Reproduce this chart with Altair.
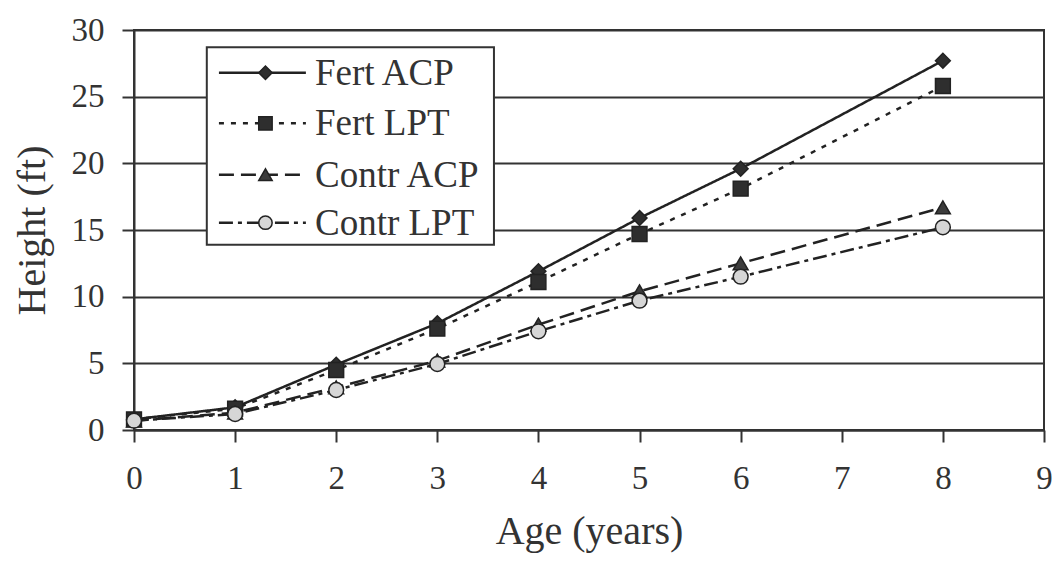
import altair as alt
import pandas as pd

# ---- data ----
ages = [0, 1, 2, 3, 4, 5, 6, 8]
fert_acp = [0.8, 1.7, 4.9, 8.0, 11.9, 15.9, 19.6, 27.7]
fert_lpt = [0.8, 1.6, 4.5, 7.6, 11.1, 14.7, 18.1, 25.8]
contr_acp = [0.7, 1.3, 3.2, 5.2, 7.9, 10.4, 12.5, 16.7]
contr_lpt = [0.7, 1.2, 3.0, 4.95, 7.4, 9.7, 11.5, 15.2]
series = ["Fert ACP", "Fert LPT", "Contr ACP", "Contr LPT"]
x_ticks = list(range(0, 10))
y_ticks = [0, 5, 10, 15, 20, 25, 30]

values = [fert_acp, fert_lpt, contr_acp, contr_lpt]
rows = []
for s, vals in zip(series, values):
    for a, v in zip(ages, vals):
        rows.append({"series": s, "age": a, "height": v})
df = pd.DataFrame(rows)

# ---- styles ----
FONT = "Liberation Serif"
INK = "#333333"
dashes = [[1, 0], [5, 7], [15, 7], [14, 5, 4, 5]]
shapes = ["diamond", "square", "triangle-up", "circle"]
fills = ["#2e2e2e", "#2e2e2e", "#3c3c3c", "#d6d6d6"]

dash_scale = alt.Scale(domain=series, range=dashes)
shape_scale = alt.Scale(domain=series, range=shapes)
fill_scale = alt.Scale(domain=series, range=fills)

xs = alt.Scale(domain=[0, 9], nice=False, zero=False)
ys = alt.Scale(domain=[0, 30], nice=False)

W = 910
x_axis = alt.Axis(values=x_ticks, format="d", grid=False, tickSize=12, tickWidth=2,
                  tickColor=INK, domainColor=INK, domainWidth=2, labelFont=FONT,
                  labelFontSize=33, labelColor=INK, labelPadding=20, labelFlush=False,
                  title="Age (years)", titleFont=FONT, titleFontSize=40,
                  titleFontWeight="normal", titleColor=INK, titleX=W / 2, titleY=113,
                  titleBaseline="alphabetic", titleAnchor="middle")
y_axis = alt.Axis(values=y_ticks, format="d", grid=True, gridColor=INK, gridWidth=2,
                  tickSize=12, tickWidth=2, tickColor=INK, domainColor=INK,
                  domainWidth=2, labelFont=FONT, labelFontSize=33, labelColor=INK,
                  labelPadding=18, labelFlush=False, title="Height (ft)", titleFont=FONT,
                  titleFontSize=40, titleFontWeight="normal", titleColor=INK,
                  titleX=-90, titleY=200, titleAngle=-90, titleAlign="center",
                  titleBaseline="alphabetic")

base = alt.Chart(df)
lines = base.mark_line(strokeWidth=2.5, color="#222222").encode(
    x=alt.X("age:Q", scale=xs, axis=x_axis),
    y=alt.Y("height:Q", scale=ys, axis=y_axis),
    strokeDash=alt.StrokeDash("series:N", scale=dash_scale, legend=None),
    detail="series:N",
)
points = base.mark_point(filled=True, size=220, stroke="#222222", strokeWidth=1.5, opacity=1).encode(
    x="age:Q",
    y="height:Q",
    shape=alt.Shape("series:N", scale=shape_scale, legend=None),
    fill=alt.Fill("series:N", scale=fill_scale, legend=None),
)

# ---- manual legend (placed in data units) ----
box_df = pd.DataFrame([{"x1": 0.72, "x2": 3.56, "y1": 13.9, "y2": 28.7}])
box = alt.Chart(box_df).mark_rect(fill="white", stroke=INK, strokeWidth=2).encode(
    x="x1:Q", x2="x2:Q", y="y1:Q", y2="y2:Q")

leg_y = [26.8, 23.0, 19.15, 15.55]
leg_df = pd.DataFrame({"series": series, "ly": leg_y,
                       "lx1": [0.84] * 4, "lx2": [1.70] * 4,
                       "mx": [1.30] * 4, "tx": [1.79] * 4})
leg_lines = alt.Chart(leg_df).mark_rule(strokeWidth=2.5, color="#222222").encode(
    x="lx1:Q", x2="lx2:Q", y="ly:Q",
    strokeDash=alt.StrokeDash("series:N", scale=dash_scale, legend=None))
leg_pts = alt.Chart(leg_df).mark_point(filled=True, size=180, stroke="#222222",
                                       strokeWidth=1.5, opacity=1).encode(
    x="mx:Q", y="ly:Q",
    shape=alt.Shape("series:N", scale=shape_scale, legend=None),
    fill=alt.Fill("series:N", scale=fill_scale, legend=None))
leg_text = alt.Chart(leg_df).mark_text(align="left", baseline="middle", font=FONT,
                                       fontSize=37, color=INK, dy=1).encode(
    x="tx:Q", y="ly:Q", text="series:N")

chart = alt.layer(lines, points, box, leg_lines, leg_pts, leg_text).properties(
    width=W, height=400,
    autosize=alt.AutoSizeParams(type="none"),
    padding={"left": 126, "top": 22, "right": 9, "bottom": 130},
    background="white",
).configure_view(stroke=INK, strokeWidth=2)

chart.save("out.html", embed_options={"renderer": "svg", "actions": False})
